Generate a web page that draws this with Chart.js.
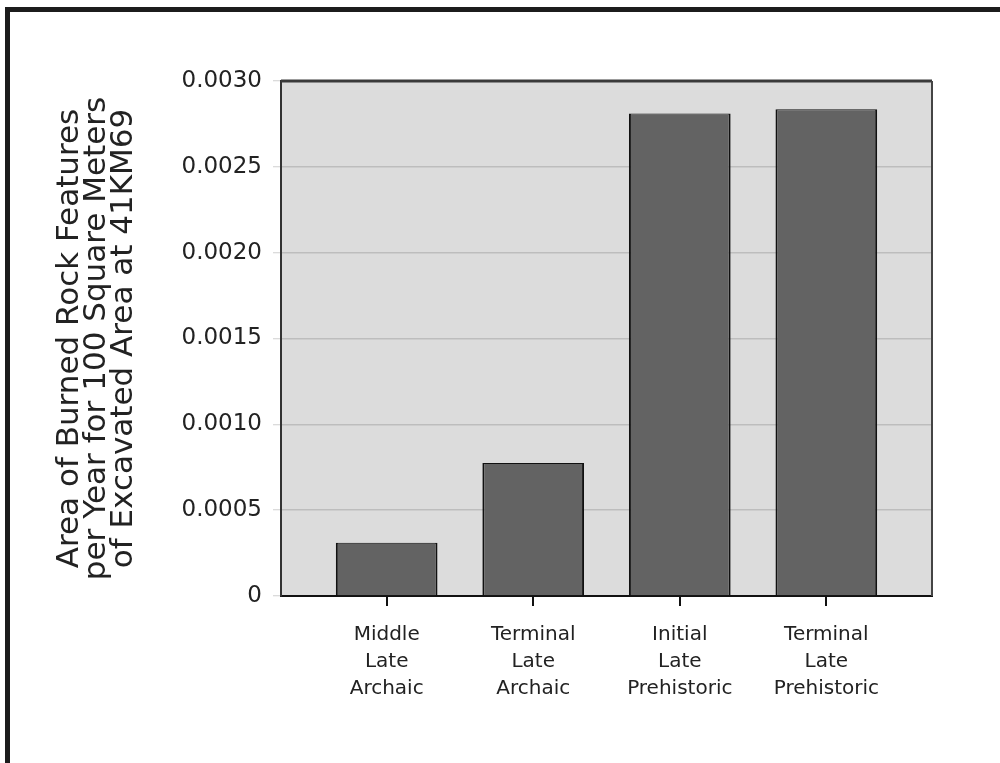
<!DOCTYPE html>
<html>
<head>
<meta charset="utf-8">
<script src="https://cdn.jsdelivr.net/npm/chart.js@4/dist/chart.umd.min.js"></script>
<style>
  html, body { margin: 0; padding: 0; background: #ffffff; overflow: hidden; }
  #wrap { position: relative; width: 1000px; height: 763px; }
  #frame { position: absolute; left: 5px; top: 7px; width: 1000px; height: 763px;
           border-left: 5px solid #1c1c1c; border-top: 5px solid #1c1c1c; box-sizing: content-box; }
  #c { position: absolute; left: 0; top: 0; }
</style>
</head>
<body>
<div id="wrap">
  <div id="frame"></div>
  <canvas id="c" width="1000" height="763"></canvas>
</div>
<script>
// ---- data ----
const categories = [
  ["Middle", "Late", "Archaic"],
  ["Terminal", "Late", "Archaic"],
  ["Initial", "Late", "Prehistoric"],
  ["Terminal", "Late", "Prehistoric"]
];
const values = [0.00031, 0.000775, 0.00281, 0.002835];
const yTitle = [
  "Area of Burned Rock Features",
  "per Year for 100 Square Meters",
  "of Excavated Area at 41KM69"
];
const yMin = 0, yMax = 0.003, yStep = 0.0005;

const FONT = "'DejaVu Sans', sans-serif";

const bgPlugin = {
  id: 'plotBg',
  beforeDraw(chart) {
    const {ctx, chartArea: a} = chart;
    ctx.save();
    ctx.fillStyle = '#dcdcdc';
    ctx.fillRect(a.left, a.top, a.right - a.left, a.bottom - a.top);
    ctx.restore();
  },
  afterDraw(chart) {
    const {ctx, chartArea: a} = chart;
    ctx.save();
    ctx.strokeStyle = '#3a3a3a';
    ctx.lineWidth = 3;
    ctx.beginPath();
    ctx.moveTo(a.left, a.top);
    ctx.lineTo(a.right, a.top);
    ctx.stroke();
    ctx.lineWidth = 2;
    ctx.strokeStyle = '#444444';
    ctx.beginPath();
    ctx.moveTo(a.right, a.top);
    ctx.lineTo(a.right, a.bottom);
    ctx.stroke();
    ctx.restore();
  }
};

new Chart(document.getElementById('c'), {
  type: 'bar',
  data: {
    datasets: [{
      data: values.map((v, i) => ({x: i, y: v})),
      backgroundColor: '#636363',
      borderColor: ['#111111'],
      borderWidth: {left: 2, right: 2, top: 1, bottom: 0},
      borderSkipped: false,
      categoryPercentage: 1,
      barPercentage: 0.694
    }]
  },
  options: {
    responsive: false,
    animation: false,
    events: [],
    layout: { padding: { left: 12, top: 81, right: 68, bottom: 0 } },
    plugins: { legend: { display: false }, tooltip: { enabled: false } },
    scales: {
      x: {
        type: 'linear',
        offset: false,
        min: -0.721,
        max: 3.721,
        afterBuildTicks(scale) { scale.ticks = categories.map((c, i) => ({value: i})); },
        afterFit(scale) { scale.height = 167; },
        grid: { offset: false, drawOnChartArea: false, drawTicks: true, tickLength: 10, color: '#111111', lineWidth: 2 },
        border: { display: true, color: '#111111', width: 2 },
        ticks: {
          callback: (v) => categories[v],
          font: { family: FONT, size: 20, lineHeight: 1.35 },
          color: '#222222',
          padding: 15,
          maxRotation: 0,
          autoSkip: false
        }
      },
      y: {
        min: yMin,
        max: yMax,
        afterFit(scale) { scale.width = 281 - 12; },
        grid: { color: '#bdbdbd', lineWidth: 1.5, drawTicks: true, tickLength: 8, tickColor: '#cfcfcf', tickWidth: 1 },
        border: { display: true, color: '#333333', width: 2 },
        ticks: {
          stepSize: yStep,
          callback: (v) => (v === 0 ? '0' : Number(v).toFixed(4)),
          font: { family: FONT, size: 23 },
          color: '#222222',
          padding: 11
        },
        title: {
          display: true,
          text: yTitle,
          font: { family: FONT, size: 31, lineHeight: '27px' },
          color: '#222222',
          padding: { top: 44, bottom: 0 }
        }
      }
    }
  },
  plugins: [bgPlugin]
});
</script>
</body>
</html>
